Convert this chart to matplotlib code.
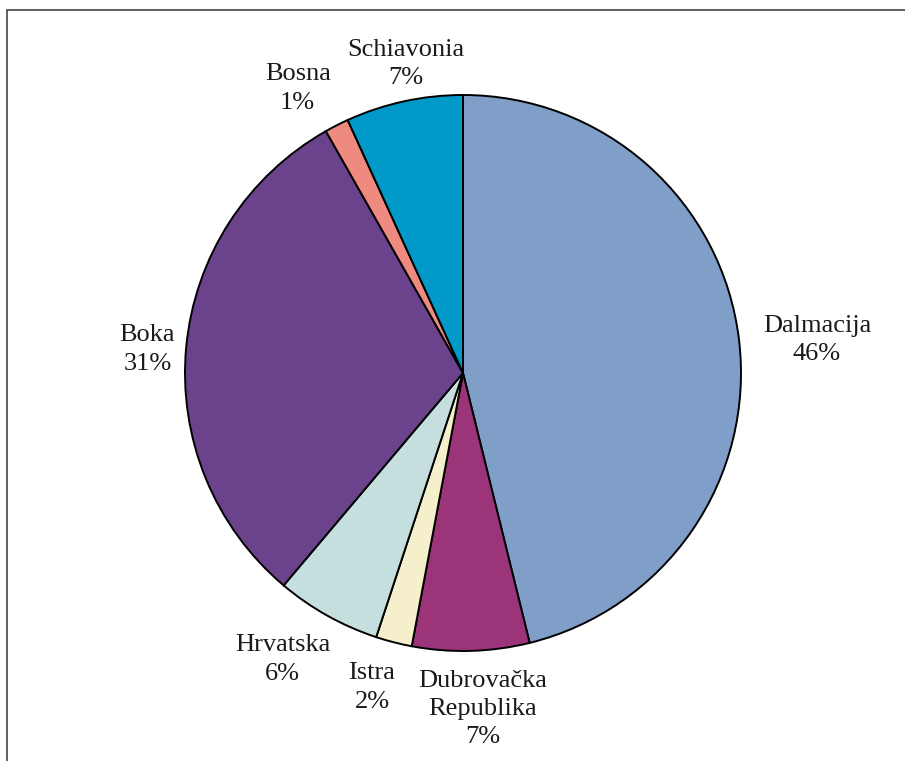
import numpy as np
import matplotlib.pyplot as plt
from matplotlib.patches import Rectangle
from matplotlib.transforms import offset_copy

# data (clockwise from 12 o'clock)
regions = ["Dalmacija", "Dubrovačka\nRepublika", "Istra", "Hrvatska",
           "Boka", "Bosna", "Schiavonia"]
shares = [46.1, 6.8, 2.1, 6.1, 30.6, 1.4, 6.8]
colors = ["#7f9fc9", "#9b3478", "#f6efcb", "#c4dfdd", "#6b428c", "#ef8a80", "#0099c8"]

# label placement: (distance in radii, angle in degrees)
label_pos = [(1.28, 5.8), (1.20, -86.6), (1.167, -106.3), (1.209, -122.5),
             (1.139, 175.2), (1.193, 119.9), (1.141, 100.3)]

plt.rcParams['font.family'] = ['Liberation Serif', 'DejaVu Serif']

W, H = 905, 761
fig = plt.figure(figsize=(W / 100, H / 100), dpi=100)

# pie centre / radius in pixels
cx, cy, r = 463, 373, 278
ax = fig.add_axes([(cx - r) / W, (H - cy - r) / H, 2 * r / W, 2 * r / H])

wedges, _ = ax.pie(shares, colors=colors, startangle=90, counterclock=False,
                   radius=1, wedgeprops=dict(edgecolor='black', linewidth=1.4))
ax.set_xlim(-1, 1)
ax.set_ylim(-1, 1)
ax.axis('off')

tr = offset_copy(ax.transData, fig=fig, y=-3, units='dots')
total = sum(shares)
for name, val, (d, ang) in zip(regions, shares, label_pos):
    a = np.deg2rad(ang)
    txt = "%s\n%d%%" % (name, round(val / total * 100))
    ax.text(d * np.cos(a), d * np.sin(a), txt, ha='center', va='center',
            multialignment='center', fontsize=19, color='#1a1a1a',
            linespacing=1.38, clip_on=False, transform=tr)

# frame (top and left visible)
fig.patches.append(Rectangle((7 / W, -0.5), 2, 1.5 - 9.5 / H, transform=fig.transFigure,
                             fill=False, edgecolor='#444444', linewidth=1.2))

fig.savefig("out.png", dpi=100)
